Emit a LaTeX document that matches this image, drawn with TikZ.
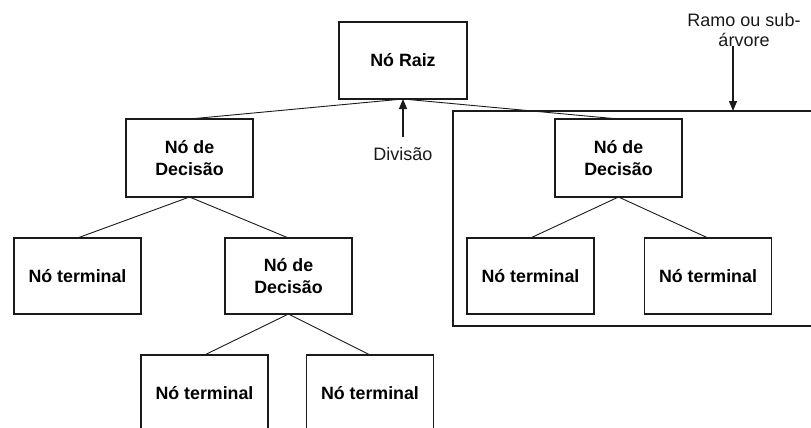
\documentclass[tikz,border=0pt]{standalone}
\usepackage{fontspec}
\setmainfont{Liberation Sans}
\usetikzlibrary{arrows.meta}
\definecolor{ink}{HTML}{1A1A1A}
\begin{document}
\begin{tikzpicture}[x=1pt,y=-1pt,
  treebox/.style={draw=ink,line width=1.3pt,inner sep=0pt,outer sep=0pt,
    minimum width=127pt,align=center,text=black,
    font=\bfseries\fontsize{17.8}{21.5}\selectfont},
  tallbox/.style={treebox,minimum height=78pt},
  lowbox/.style={treebox,minimum height=76pt},
  branch/.style={draw=ink,line width=0.9pt},
  pointer/.style={draw=ink,line width=1.2pt,-{Triangle[length=10pt,width=8pt]}},
  note/.style={align=center,text=ink,font=\fontsize{18}{20}\selectfont}]
\useasboundingbox (0,0) rectangle (811,428);
\begin{scope}
\clip (0,0) rectangle (811,428);
% root and first-level decision nodes
\node[treebox,minimum width=128pt,minimum height=77pt] (root) at (403,60.5) {Nó Raiz};
\node[tallbox] (ld) at (189.5,158) {Nó de\\Decisão};
\node[tallbox] (rd) at (618.5,158) {Nó de\\Decisão};
% second level
\node[lowbox] (lt) at (77.5,276) {Nó terminal};
\node[lowbox] (md) at (288.5,276) {Nó de\\Decisão};
\node[lowbox] (rt1) at (530.5,276) {Nó terminal};
\node[lowbox] (rt2) at (708,276) {Nó terminal};
% third level, running off the bottom edge
\node[lowbox] (bt1) at (204.5,393) {Nó terminal};
\node[lowbox] (bt2) at (370,393) {Nó terminal};
% frame around the right sub-tree
\draw[ink,line width=1.3pt] (840,111) -- (453,111) -- (453,326) -- (840,326);
\coordinate (subtop) at (733,111);
% branches
\draw[branch] (root.south) -- (ld.north);
\draw[branch] (root.south) -- (rd.north);
\draw[branch] (ld.south) -- (lt.north);
\draw[branch] (ld.south) -- (md.north);
\draw[branch] (md.south) -- (bt1.north);
\draw[branch] (md.south) -- (bt2.north);
\draw[branch] (rd.south) -- (rt1.north);
\draw[branch] (rd.south) -- (rt2.north);
% annotations
\node[note,anchor=north] (div) at (403,144) {Divisão};
\coordinate (divtail) at (403,137);
\draw[pointer] (divtail) -- (root.south);
\node[note] (ramo) at (744,30) {Ramo ou sub-\\árvore};
\coordinate (ramotail) at (733,46);
\draw[pointer] (ramotail) -- (subtop);
\end{scope}
\end{tikzpicture}
\end{document}
